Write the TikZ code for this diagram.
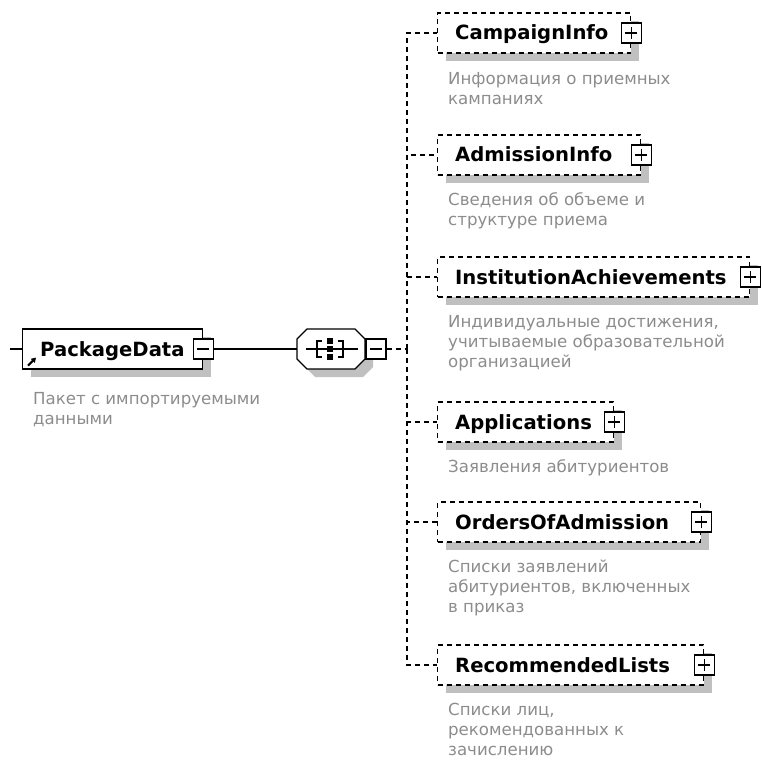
\documentclass[tikz,border=0pt]{standalone}
\usepackage{fontspec}
\setmainfont{DejaVu Sans}
\usetikzlibrary{calc,arrows.meta,shadows}
\definecolor{desccol}{RGB}{140,140,140}
\definecolor{shadecol}{RGB}{192,192,192}
\tikzset{
  solidline/.style={line width=1.3pt},
  dsh/.style={dash pattern=on 5pt off 4pt},
  shadowed/.style={drop shadow={shadow xshift=8pt, shadow yshift=-8pt, opacity=1, fill=shadecol}},
  elbox/.style={draw, line width=1.3pt, fill=white, minimum height=40pt, inner sep=0pt, anchor=west, shadowed},
  childbox/.style={elbox, dsh},
  elname/.style={font=\fontsize{19.6}{23}\selectfont\bfseries, inner sep=0pt, anchor=base west},
  desctext/.style={font=\fontsize{16.6}{20}\selectfont, text=desccol, align=left, inner sep=0pt, anchor=north west},
  pmbox/.style={draw, line width=1.3pt, fill=white, minimum size=20pt, inner sep=0pt},
  minusbox/.style={pmbox, path picture={\draw[line width=1.3pt] ($(path picture bounding box.center)+(-6pt,0pt)$) -- ($(path picture bounding box.center)+(6pt,0pt)$);}},
  plusbox/.style={pmbox, path picture={\draw[line width=1.3pt] ($(path picture bounding box.center)+(-6pt,0pt)$) -- ($(path picture bounding box.center)+(6pt,0pt)$) ($(path picture bounding box.center)+(0pt,-6pt)$) -- ($(path picture bounding box.center)+(0pt,6pt)$);}},
  conn/.style={line width=1.3pt, dsh},
}
\begin{document}
\begin{tikzpicture}[x=1pt,y=-1pt]
\useasboundingbox (0,0) rectangle (761,762);

% root element
\node[elbox, minimum width=180pt] (pd) at (22,349) {};
\node[elname] (pdt) at (40,356) {PackageData};
\draw[line width=2pt, -{Triangle[length=4.5pt,width=5.5pt]}] ($(pd.south west)+(6pt,4pt)$) -- ++(8pt,8pt);
\node[minusbox] (pdm) at (pd.east) {};
\node[desctext] (pdd) at (33,390) {\strut Пакет с импортируемыми\\данными};

% sequence compositor
\node[inner sep=0pt, minimum width=68pt, minimum height=40pt] (seq) at (331,349) {};
\fill[shadecol, shift={(8,8)}] (307,329) -- (355,329) -- (365,339) -- (365,359) -- (355,369) -- (307,369) -- (297,359) -- (297,339) -- cycle;
\draw[solidline, fill=white] (307,329) -- (355,329) -- (365,339) -- (365,359) -- (355,369) -- (307,369) -- (297,359) -- (297,339) -- cycle;
\draw[solidline] (306,349) -- (358,349);
\draw[solidline] (322,341) -- (317,341) -- (317,357) -- (322,357);
\draw[solidline] (338,341) -- (343,341) -- (343,357) -- (338,357);
\fill (327,338) rectangle (333,344);
\fill (327,346) rectangle (333,352);
\fill (327,354) rectangle (333,360);
\node[minusbox] (seqm) at (376,349) {};

% connectors of the root
\coordinate (src) at (10,349);
\draw[solidline] (src) -- (pd.west);
\draw[solidline] (pdm.east) -- (seq.west);
\coordinate (bus) at (407,349);
\draw[conn] (seqm.east) -- (bus);

% children
\node[childbox, minimum width=193pt] (c1) at (437,33) {};
\node[elname] (c1t) at (455,40) {CampaignInfo};
\node[plusbox] (c1p) at (c1.east) {};
\node[desctext] (c1d) at (448,70) {\strut Информация о приемных\\кампаниях};

\node[childbox, minimum width=203pt] (c2) at (437,155) {};
\node[elname] (c2t) at (455,162) {AdmissionInfo};
\node[plusbox] (c2p) at (c2.east) {};
\node[desctext] (c2d) at (448,191) {\strut Сведения об объеме и\\структуре приема};

\node[childbox, minimum width=312pt] (c3) at (437,277) {};
\node[elname] (c3t) at (455,284) {InstitutionAchievements};
\node[plusbox] (c3p) at (c3.east) {};
\node[desctext] (c3d) at (448,313) {\strut Индивидуальные достижения,\\учитываемые образовательной\\организацией};

\node[childbox, minimum width=176pt] (c4) at (437,422) {};
\node[elname] (c4t) at (455,429) {Applications};
\node[plusbox] (c4p) at (c4.east) {};
\node[desctext] (c4d) at (448,458) {\strut Заявления абитуриентов};

\node[childbox, minimum width=263pt] (c5) at (437,522) {};
\node[elname] (c5t) at (455,529) {OrdersOfAdmission};
\node[plusbox] (c5p) at (c5.east) {};
\node[desctext] (c5d) at (448,558) {\strut Списки заявлений\\абитуриентов, включенных\\в приказ};

\node[childbox, minimum width=266pt] (c6) at (437,665) {};
\node[elname] (c6t) at (455,672) {RecommendedLists};
\node[plusbox] (c6p) at (c6.east) {};
\node[desctext] (c6d) at (448,701) {\strut Списки лиц,\\рекомендованных к\\зачислению};

\foreach \c in {c1,c2,c3,c4,c5,c6}
  \draw[conn] (bus) |- (\c.west);
\end{tikzpicture}
\end{document}
